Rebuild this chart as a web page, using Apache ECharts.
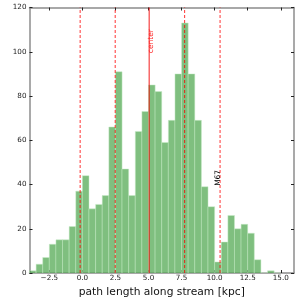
<!DOCTYPE html>
<html><head><meta charset="utf-8">
<script src="https://cdn.jsdelivr.net/npm/echarts@6/dist/echarts.min.js"></script>
<style>html,body{margin:0;padding:0;background:#fff}#c{width:299px;height:299px}</style>
</head><body><div id="c"></div>
<script>
// histogram bins (left edges, kpc) and counts
const binStarts = [-4,-3.5,-3,-2.5,-2,-1.5,-1,-0.5,0,0.5,1,1.5,2,2.5,3,3.5,4,4.5,5,5.5,6,6.5,7,7.5,8,8.5,9,9.5,10,10.5,11,11.5,12,12.5,13,13.5,14,14.5];
const counts = [1,4,7,13,15,15,21,37,44,29,31,35,66,91,47,35,64,73,85,82,59,69,90,113,90,69,39,30,5,14,26,20,22,18,6,0,1,0];
const binWidth = 0.5;
// vertical reference lines
const dashedLines = [-0.17, 2.48, 7.73, 10.41];
const centerLine = [5.05];
// annotations: [x, y, text, colour]
const annotations = [[5.2, 104.8, 'center', '#ff2020'], [10.25, 43, 'M67', '#000000']];
const xTicks = [-2.5, 0, 2.5, 5, 7.5, 10, 12.5, 15];
const yTicks = [0, 20, 40, 60, 80, 100, 120];

const font = 'DejaVu Sans';
const frame = {show: true, onZero: false, lineStyle: {color: '#8c8c8c', width: 1.5}};
const chart = echarts.init(document.getElementById('c'), null, {renderer: 'canvas'});
const histData = binStarts.map((s, i) => [s, s + binWidth, counts[i]]);
chart.setOption({
  animation: false,
  grid: {left: 29.5, right: 5, top: 7.5, bottom: 26, containLabel: false, outerBoundsMode: 'none'},
  xAxis: [{
    type: 'value', min: -4, max: 16, position: 'bottom',
    axisLine: frame, splitLine: {show: false},
    axisTick: {show: true, inside: true, length: 3, customValues: xTicks, lineStyle: {color: '#222'}},
    axisLabel: {customValues: xTicks, fontFamily: font, fontSize: 7.2, color: '#222', margin: 1.5,
      formatter: v => v.toFixed(1).replace('-', '\u2212')},
    name: 'path length along stream [kpc]', nameLocation: 'middle', nameGap: 11,
    nameTextStyle: {fontFamily: font, fontSize: 10.7, color: '#111'}
  }, {
    type: 'value', min: -4, max: 16, position: 'top',
    axisLine: frame, splitLine: {show: false},
    axisTick: {show: true, inside: true, length: 3, customValues: xTicks, lineStyle: {color: '#222'}},
    axisLabel: {show: false}
  }],
  yAxis: [{
    type: 'value', min: 0, max: 120, interval: 20, position: 'left',
    axisLine: frame, splitLine: {show: false},
    axisTick: {show: true, inside: true, length: 3, lineStyle: {color: '#222'}},
    axisLabel: {fontFamily: font, fontSize: 7.2, color: '#222', margin: 3},
    name: 'Counts', nameLocation: 'middle', nameGap: 22,
    nameTextStyle: {fontFamily: font, fontSize: 10.7, color: '#111'}
  }, {
    type: 'value', min: 0, max: 120, interval: 20, position: 'right',
    axisLine: frame, splitLine: {show: false},
    axisTick: {show: true, inside: true, length: 3, lineStyle: {color: '#222'}},
    axisLabel: {show: false}
  }],
  series: [{
    type: 'custom', data: histData, clip: true,
    renderItem: (params, api) => {
      const p0 = api.coord([api.value(0), api.value(2)]);
      const p1 = api.coord([api.value(1), 0]);
      return {type: 'rect', shape: {x: p0[0], y: p0[1], width: p1[0] - p0[0], height: p1[1] - p0[1]},
        style: {fill: 'rgba(0,128,0,0.5)', stroke: 'rgba(200,235,200,0.8)', lineWidth: 0.6}};
    }
  }, {
    type: 'custom', data: dashedLines.map(x => [x]),
    renderItem: (params, api) => {
      const a = api.coord([api.value(0), 0]);
      const b = api.coord([api.value(0), 120]);
      return {type: 'line', shape: {x1: a[0], y1: a[1], x2: b[0], y2: b[1]},
        style: {stroke: 'rgba(255,0,0,0.8)', lineWidth: 1, lineDash: [3, 2]}};
    }
  }, {
    type: 'custom', data: centerLine.map(x => [x]),
    renderItem: (params, api) => {
      const a = api.coord([api.value(0), 0]);
      const b = api.coord([api.value(0), 120]);
      return {type: 'line', shape: {x1: a[0], y1: a[1], x2: b[0], y2: b[1]},
        style: {stroke: 'rgba(240,0,0,0.75)', lineWidth: 1.2}};
    }
  }, {
    type: 'custom', data: annotations,
    renderItem: (params, api) => {
      const p = api.coord([api.value(0), api.value(1)]);
      const d = annotations[params.dataIndex];
      return {type: 'text', x: p[0], y: p[1], rotation: Math.PI / 2,
        style: {text: d[2], fill: d[3], fontFamily: font, fontSize: 7.5, align: 'center', verticalAlign: 'middle'}};
    }
  }]
});
</script></body></html>
